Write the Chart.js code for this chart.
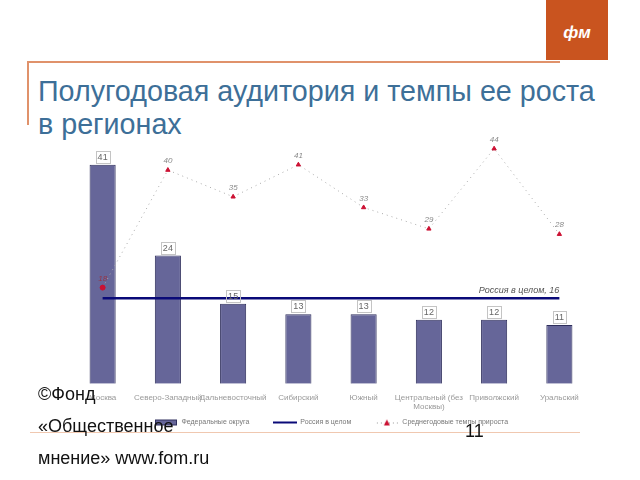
<!DOCTYPE html>
<html>
<head>
<meta charset="utf-8">
<script src="https://cdn.jsdelivr.net/npm/chart.js@4"></script>
<style>
  body { margin: 0; width: 640px; height: 480px; background: #fff; position: relative; overflow: hidden; font-family: "Liberation Sans", Arial, sans-serif; }
  #logo { position: absolute; left: 546px; top: 0; width: 62px; height: 60px; background: #c9541f; color: #fff; font: italic bold 17px "Liberation Sans"; text-align: center; line-height: 66px; }
  #hline { position: absolute; left: 27px; top: 61px; width: 533px; height: 2px; background: #e0926b; }
  #vline { position: absolute; left: 27px; top: 61px; width: 2px; height: 64px; background: #e0926b; }
  #title { position: absolute; left: 38px; top: 75px; font-size: 28.7px; line-height: 33px; color: #3d6f98; }
  #chartBox { position: absolute; left: 60px; top: 125px; width: 545px; height: 311px; }
  #bline { position: absolute; left: 30px; top: 432px; width: 550px; height: 1px; background: #f0c8b0; }
  #footer { position: absolute; left: 38px; top: 378px; font-size: 18px; line-height: 32px; color: #111; }
  #page { position: absolute; left: 465px; top: 421px; font-size: 18px; color: #111; }
</style>
</head>
<body>
<div id="logo">фм</div>
<div id="hline"></div>
<div id="vline"></div>
<div id="title">Полугодовая аудитория и темпы ее роста<br>в регионах</div>
<div id="bline"></div>
<div id="chartBox"><canvas id="regionChart"></canvas></div>
<div id="footer">©Фонд<br>«Общественное<br>мнение» www.fom.ru</div>
<div id="page">11</div>
<script>
var regions = ["Москва", "Северо-Западный", "Дальневосточный", "Сибирский", "Южный", ["Центральный (без", "Москвы)"], "Приволжский", "Уральский"];
var audience = [41, 24, 15, 13, 13, 12, 12, 11];   // Федеральные округа
var russia = [16, 16, 16, 16, 16, 16, 16, 16];      // Россия в целом
var growth = [18, 40, 35, 41, 33, 29, 44, 28];      // Среднегодовые темпы прироста

// small canvases used as legend swatches
function swatch(draw) {
  var c = document.createElement("canvas");
  c.width = 24;
  c.height = 8;
  draw(c.getContext("2d"));
  return c;
}
var barSwatch = swatch(function(g) {
  g.fillStyle = "#666699"; g.fillRect(1, 1, 22, 6);
  g.strokeStyle = "#2e2e5c"; g.strokeRect(1.5, 1.5, 21, 5);
});
var lineSwatch = swatch(function(g) {
  g.fillStyle = "#0a0a78"; g.fillRect(0, 3, 24, 2);
});
var growthSwatch = swatch(function(g) {
  g.fillStyle = "#999999";
  for (var x = 2; x < 24; x += 4) g.fillRect(x, 4, 1, 1);
  g.fillStyle = "#cc1133";
  g.beginPath(); g.moveTo(12, 1); g.lineTo(15, 7); g.lineTo(9, 7); g.closePath(); g.fill();
});

// value labels drawn on top of marks
var labelPlugin = {
  id: "labels",
  afterDatasetsDraw: function(chart) {
    var ctx = chart.ctx;
    ctx.save();
    ctx.textAlign = "center";
    ctx.textBaseline = "bottom";
    var bars = chart.getDatasetMeta(0).data;
    ctx.font = "9px 'Liberation Sans'";
    for (var i = 0; i < bars.length; ++i) {
      var b = bars[i];
      var txt = String(audience[i]);
      var w = ctx.measureText(txt).width + 4;
      ctx.strokeStyle = "#c4c4c4";
      ctx.lineWidth = 1;
      ctx.strokeRect(Math.round(b.x - w / 2) + 0.5, Math.round(b.y - 14) + 0.5, Math.round(w), 12);
      ctx.fillStyle = "#666666";
      ctx.fillText(txt, b.x, b.y - 3);
    }
    var pts = chart.getDatasetMeta(2).data;
    ctx.font = "italic 8px 'Liberation Sans'";
    for (var j = 0; j < pts.length; ++j) {
      ctx.fillStyle = j === 0 ? "#993344" : "#888888";
      ctx.fillText(String(growth[j]), pts[j].x, pts[j].y - 5);
    }
    var rl = chart.getDatasetMeta(1).data;
    var last = rl[rl.length - 1];
    ctx.textAlign = "right";
    ctx.font = "italic 9px 'Liberation Sans'";
    ctx.fillStyle = "#555555";
    ctx.fillText("Россия в целом, 16", last.x, last.y - 3);
    ctx.restore();
  }
};

var ctx = document.getElementById("regionChart");
var regionChart = new Chart(ctx, {
  data: {
    labels: regions,
    datasets: [{
      type: "bar",
      label: "Федеральные округа",
      data: audience,
      backgroundColor: "#666699",
      borderColor: "#2e2e5c",
      borderWidth: 1,
      barPercentage: 0.8,
      categoryPercentage: 0.5,
      order: 3
    }, {
      type: "line",
      label: "Россия в целом",
      data: russia,
      borderColor: "#0a0a78",
      borderWidth: 2.5,
      pointRadius: 0,
      order: 2
    }, {
      type: "line",
      label: "Среднегодовые темпы прироста",
      data: growth,
      borderColor: "#aaaaaa",
      borderWidth: 1,
      borderDash: [1, 4],
      backgroundColor: "#cc1133",
      pointBackgroundColor: "#cc1133",
      pointBorderColor: "#cc1133",
      pointStyle: ["circle", "triangle", "triangle", "triangle", "triangle", "triangle", "triangle", "triangle"],
      pointRadius: 2.5,
      order: 1
    }]
  },
  options: {
    responsive: true,
    maintainAspectRatio: false,
    animation: false,
    layout: { padding: { left: 10, right: 13, top: 13, bottom: 0 } },
    plugins: {
      tooltip: { enabled: false },
      legend: {
        position: "bottom",
        labels: {
          usePointStyle: true,
          pointStyleWidth: 24,
          padding: 6,
          color: "#777777",
          font: { size: 7, family: "'Liberation Sans'" },
          generateLabels: function(chart) {
            var styles = [barSwatch, lineSwatch, growthSwatch];
            var n = chart.data.datasets.length;
            return chart.data.datasets.map(function(ds, k) {
              return {
                // trailing spaces widen the gap between legend items
                text: k < n - 1 ? ds.label + "         " : ds.label,
                datasetIndex: k,
                pointStyle: styles[k],
                fontColor: "#777777"
              };
            });
          }
        }
      }
    },
    scales: {
      x: {
        grid: { display: false },
        border: { display: false },
        ticks: { color: "#999999", font: { size: 8, family: "'Liberation Sans'" }, maxRotation: 0, autoSkip: false, padding: 1 }
      },
      y: {
        display: false,
        min: 0,
        max: 46
      }
    }
  },
  plugins: [labelPlugin]
});
</script>
</body>
</html>
